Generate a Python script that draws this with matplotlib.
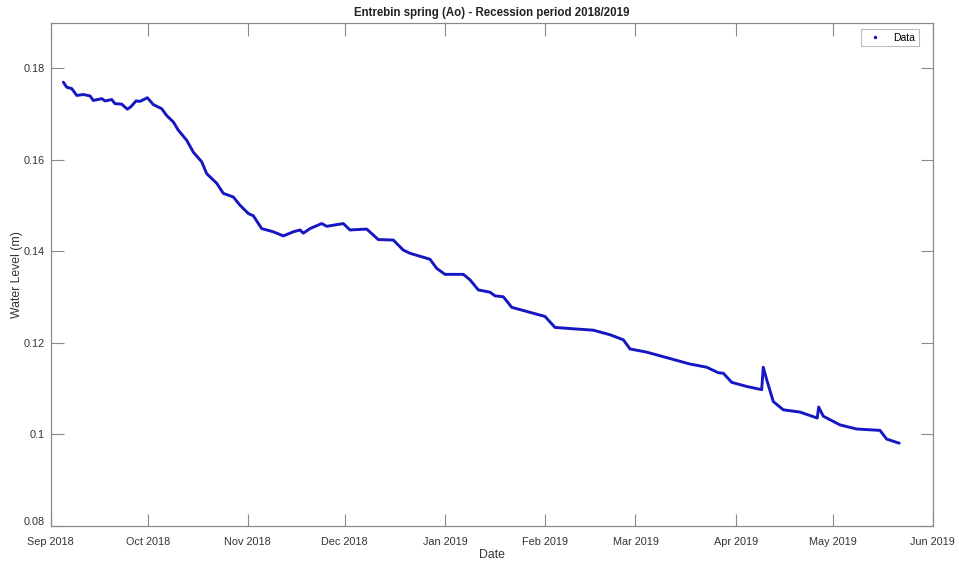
import matplotlib
matplotlib.use("Agg")
import matplotlib.pyplot as plt
import matplotlib.dates as mdates
import matplotlib.transforms as mtransforms
from matplotlib.lines import Line2D
from matplotlib.ticker import FuncFormatter
import datetime as dt

plt.rcParams['font.family'] = ['Liberation Sans', 'DejaVu Sans']

# Days after 2018-09-01 and water level (m)
days = [3.90, 4.95, 6.50, 8.05, 10.09, 12.16, 13.18, 15.78, 16.81, 18.88,
        19.90, 21.97, 23.71, 24.76, 26.40, 27.64, 29.90, 31.75, 34.35, 35.90,
        37.95, 39.49, 42.09, 44.14, 46.73, 48.28, 51.38, 53.42, 56.52, 58.59,
        61.16, 62.71, 65.30, 68.90, 71.99, 75.08, 77.16, 78.18, 80.25, 83.88,
        85.42, 90.56, 92.63, 97.80, 101.39, 106.03, 109.13, 111.20, 117.39, 119.47,
        122.04, 127.70, 129.78, 132.34, 135.96, 137.51, 140.08, 142.68, 148.34, 152.99,
        156.08, 161.75, 167.94, 173.11, 177.22, 179.30, 184.46, 190.65, 197.86, 203.03,
        206.62, 208.17, 210.77, 215.41, 220.06, 220.55, 221.60, 223.65, 226.74, 231.91,
        237.26, 237.70, 239.12, 244.29, 249.46, 256.67, 258.74, 262.64]
level = [0.1770, 0.1759, 0.1756, 0.1741, 0.1743, 0.1740, 0.1730, 0.1734, 0.1729, 0.1732,
         0.1723, 0.1722, 0.1711, 0.1716, 0.1729, 0.1728, 0.1736, 0.1721, 0.1712, 0.1697,
         0.1683, 0.1665, 0.1643, 0.1617, 0.1596, 0.1570, 0.1549, 0.1527, 0.1519, 0.1501,
         0.1483, 0.1478, 0.1450, 0.1443, 0.1434, 0.1443, 0.1447, 0.1440, 0.1450, 0.1461,
         0.1455, 0.1461, 0.1447, 0.1449, 0.1426, 0.1425, 0.1403, 0.1396, 0.1383, 0.1363,
         0.1350, 0.1350, 0.1338, 0.1316, 0.1311, 0.1303, 0.1301, 0.1278, 0.1267, 0.1258,
         0.1234, 0.1231, 0.1228, 0.1218, 0.1207, 0.1187, 0.1180, 0.1168, 0.1154, 0.1147,
         0.1135, 0.1134, 0.1114, 0.1105, 0.1098, 0.1147, 0.1120, 0.1072, 0.1054, 0.1049,
         0.1036, 0.1060, 0.1040, 0.1021, 0.1012, 0.1009, 0.0990, 0.0981]

start = dt.datetime(2018, 9, 1)
dates = [start + dt.timedelta(days=d) for d in days]

xtick_dates = [dt.datetime(2018, 9, 1), dt.datetime(2018, 10, 1), dt.datetime(2018, 11, 1),
               dt.datetime(2018, 12, 1), dt.datetime(2019, 1, 1), dt.datetime(2019, 2, 1),
               dt.datetime(2019, 3, 1), dt.datetime(2019, 4, 1), dt.datetime(2019, 5, 1),
               dt.datetime(2019, 6, 1)]
yticks = [0.08, 0.10, 0.12, 0.14, 0.16, 0.18]

line_color = '#1616c2'
axis_color = '#8a8a8a'
text_color = '#333333'

fig = plt.figure(figsize=(9.59, 5.63), dpi=100)
ax = fig.add_axes([0.0529, 0.0657, 0.9197, 0.894])

ax.plot(dates, level, '-', color=line_color, linewidth=2.1, solid_joinstyle='round',
        solid_capstyle='round')

ax.set_xlim(xtick_dates[0], xtick_dates[-1])
ax.set_ylim(0.08, 0.19)
ax.set_xticks(xtick_dates)
ax.xaxis.set_major_formatter(mdates.DateFormatter('%b %Y'))
ax.set_yticks(yticks)
ax.yaxis.set_major_formatter(FuncFormatter(lambda v, p: f"{v:g}"))

ax.tick_params(direction='in', length=9, width=0.8, colors=axis_color,
               labelcolor=text_color, labelsize=7.8, top=True, right=True)
ax.tick_params(axis='x', pad=8)
ax.tick_params(axis='y', pad=4)
for s in ax.spines.values():
    s.set_color(axis_color)
    s.set_linewidth(0.9)

# lift the lowest y label slightly, as in the reference
fig.canvas.draw()
ylabels = ax.get_yticklabels()
if ylabels:
    lab = ylabels[0]
    lab.set_transform(lab.get_transform() + mtransforms.ScaledTranslation(0, 5 / 100, fig.dpi_scale_trans))

ax.set_title('Entrebin spring (Ao) - Recession period 2018/2019', fontsize=8.3,
             fontweight='bold', color='#222222', pad=5)
ax.set_xlabel('Date', fontsize=8.8, color=text_color, labelpad=1)
ax.set_ylabel('Water Level (m)', fontsize=8.8, color=text_color, labelpad=0.5)

handle = Line2D([], [], linestyle='none', marker='.', markersize=3, color=line_color)
leg = ax.legend([handle], ['Data'], loc='upper right', fontsize=7.5, frameon=True,
                fancybox=False, edgecolor='#aaaaaa',
                bbox_to_anchor=(919 / 959, 1 - 29 / 563), bbox_transform=fig.transFigure,
                borderaxespad=0, handlelength=2.0, handletextpad=0.8, borderpad=0.35)
leg.get_frame().set_linewidth(0.8)

fig.savefig('out.png', dpi=100, facecolor='white')
